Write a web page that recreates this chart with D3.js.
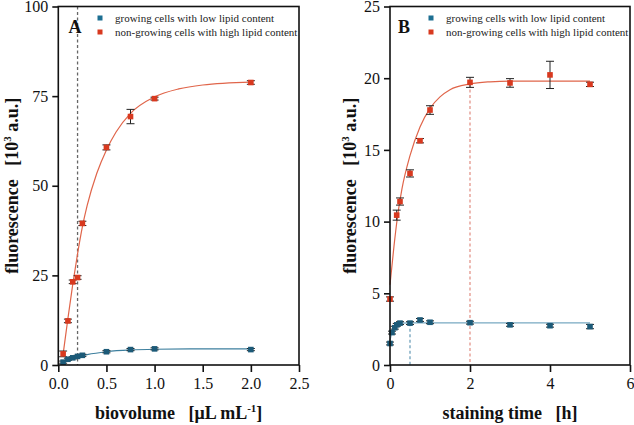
<!DOCTYPE html>
<html>
<head>
<meta charset="utf-8">
<script src="https://cdn.jsdelivr.net/npm/d3@7"></script>
<style>
  html, body { margin: 0; padding: 0; background: #fff; }
  svg { display: block; }
  svg text { font-family: "Liberation Serif", "Times New Roman", serif; }
</style>
</head>
<body>
<div id="chart"></div>
<script>
// Panel A: biovolume [uL/mL]
const aX = [0.05, 0.1, 0.15, 0.2, 0.25, 0.5, 0.75, 1.0, 2.0];
const aRed = [3.1, 12.3, 23.2, 24.4, 39.5, 60.7, 69.3, 74.3, 78.8];
const aRedErr = [0.8, 0.5, 0.5, 0.5, 0.6, 0.7, 2.0, 0.4, 0.5];
const aBlue = [0.8, 1.6, 2.0, 2.4, 2.7, 3.7, 4.3, 4.5, 4.3];
const aBlueErr = [0.3, 0.3, 0.3, 0.3, 0.3, 0.3, 0.3, 0.3, 0.3];
// fitted curves
const aRedFitX = [0.05, 0.1, 0.15, 0.2, 0.25, 0.3, 0.4, 0.5, 0.6, 0.75, 1.0, 1.25, 1.5, 2.0];
const aRedFitY = [3.0, 13.0, 22.5, 31.0, 38.5, 44.5, 53.5, 60.0, 65.0, 70.2, 74.8, 77.0, 78.1, 78.9];
const aBlueFitX = [0.05, 0.1, 0.2, 0.3, 0.5, 0.75, 1.0, 1.5, 2.0];
const aBlueFitY = [0.9, 1.5, 2.3, 2.9, 3.7, 4.2, 4.4, 4.5, 4.5];
const aMarker = 0.2;
const aXTicks = [0, 0.5, 1.0, 1.5, 2.0, 2.5];
const aYTicks = [0, 25, 50, 75, 100];

// Panel B: staining time [h]
const bRedX = [0, 0.167, 0.25, 0.5, 0.75, 1, 2, 3, 4, 5];
const bRed = [4.6, 10.45, 11.4, 13.36, 15.64, 17.78, 19.71, 19.67, 20.23, 19.57];
const bRedErr = [0.15, 0.35, 0.25, 0.25, 0.15, 0.3, 0.35, 0.3, 0.95, 0.15];
const bBlueX = [0, 0.05, 0.12, 0.17, 0.25, 0.5, 0.75, 1, 2, 3, 4, 5];
const bBlue = [1.5, 2.26, 2.6, 2.8, 2.92, 2.92, 3.14, 2.98, 2.95, 2.8, 2.74, 2.68];
const bBlueErr = [0.1, 0.1, 0.1, 0.1, 0.1, 0.1, 0.1, 0.1, 0.1, 0.1, 0.1, 0.15];
const bRedFitX = [0, 0.1, 0.2, 0.3, 0.5, 0.75, 1, 1.25, 1.5, 2, 2.5, 3, 4, 5];
const bRedFitY = [5.6, 8.3, 10.6, 12.3, 14.6, 16.6, 17.9, 18.7, 19.2, 19.6, 19.75, 19.8, 19.8, 19.8];
const bBlueFitX = [0, 0.05, 0.1, 0.2, 0.3, 0.5, 1, 2, 5];
const bBlueFitY = [1.7, 2.3, 2.6, 2.85, 2.92, 2.94, 2.94, 2.94, 2.94];
const bMarkerRed = [2, 19.6];
const bMarkerBlue = [0.5, 2.92];
const bXTicks = [0, 2, 4, 6];
const bYTicks = [0, 5, 10, 15, 20, 25];

const legendLabels = ["growing cells with low lipid content", "non-growing cells with high lipid content"];

const W = 634, H = 425;
const SERIF = "'Liberation Serif', 'Times New Roman', serif";
const RED = "#d8391f", RED_LINE = "#e0654a";
const BLUE = "#1c5a78", BLUE_LINE_A = "#3d7f9e", BLUE_LINE_B = "#78a9c2";

const svg = d3.select("#chart").append("svg")
  .attr("width", W).attr("height", H).attr("viewBox", [0, 0, W, H])
  .attr("font-family", SERIF);

function drawPanel(p) {
  const x = d3.scaleLinear().domain(p.xDomain).range([p.left, p.right]);
  const y = d3.scaleLinear().domain(p.yDomain).range([p.bottom, p.top]);
  const g = svg.append("g");

  // dashed markers under everything
  p.dashes.forEach((d) => {
    g.append("line")
      .attr("x1", x(d.x)).attr("x2", x(d.x))
      .attr("y1", d.y == null ? p.top : y(d.y)).attr("y2", p.bottom)
      .attr("stroke", d.color).attr("stroke-width", 1.3)
      .attr("stroke-dasharray", "3,2.5");
  });

  // fitted curves
  const line = d3.line().curve(d3.curveMonotoneX).x((d) => x(d[0])).y((d) => y(d[1]));
  p.fits.forEach((f) => {
    g.append("path")
      .datum(d3.zip(f.xs, f.ys))
      .attr("d", line)
      .attr("fill", "none")
      .attr("stroke", f.color)
      .attr("stroke-width", 1.2);
  });

  // points with error bars
  p.series.forEach((s) => {
    const pts = d3.zip(s.xs, s.ys, s.err);
    const eg = g.append("g").attr("stroke", "#222").attr("stroke-width", 1);
    pts.forEach(([xv, yv, e]) => {
      const cx = x(xv);
      eg.append("line").attr("x1", cx).attr("x2", cx).attr("y1", y(yv - e)).attr("y2", y(yv + e));
      [yv - e, yv + e].forEach((v) => {
        eg.append("line").attr("x1", cx - 4).attr("x2", cx + 4).attr("y1", y(v)).attr("y2", y(v));
      });
    });
    g.append("g").selectAll("rect").data(pts).join("rect")
      .attr("x", (d) => x(d[0]) - 2.8)
      .attr("y", (d) => y(d[1]) - 2.8)
      .attr("width", 5.6).attr("height", 5.6)
      .attr("fill", s.color);
  });

  // frame
  g.append("rect")
    .attr("x", p.left).attr("y", p.top)
    .attr("width", p.right - p.left).attr("height", p.bottom - p.top)
    .attr("fill", "none").attr("stroke", "#111").attr("stroke-width", 1.6);

  // axes
  const ax = g.append("g")
    .attr("transform", `translate(0,${p.bottom})`)
    .call(d3.axisBottom(x).tickValues(p.xTicks).tickFormat(p.xFormat).tickSize(7).tickPadding(6));
  const ay = g.append("g")
    .attr("transform", `translate(${p.left},0)`)
    .call(d3.axisLeft(y).tickValues(p.yTicks).tickFormat(d3.format("d")).tickSize(6).tickPadding(4));
  [ax, ay].forEach((a) => {
    a.attr("font-family", SERIF);
    a.select(".domain").remove();
    a.selectAll(".tick line").attr("stroke", "#111").attr("stroke-width", 1.6);
    a.selectAll("text").attr("fill", "#111").attr("font-family", SERIF).style("font-size", "16px");
  });

  // panel letter
  g.append("text")
    .attr("x", p.letterX).attr("y", 33)
    .attr("text-anchor", "middle").attr("font-family", SERIF)
    .style("font-size", "18px").style("font-weight", "bold")
    .attr("fill", "#111").text(p.letter);

  // legend
  const lg = g.append("g").attr("transform", `translate(${p.legendX},0)`);
  [BLUE, RED].forEach((c, i) => {
    const ly = 18 + i * 14;
    lg.append("rect").attr("x", -2.5).attr("y", ly - 2.5).attr("width", 5).attr("height", 5).attr("fill", i ? RED : "#1d6f92");
    lg.append("text").attr("x", 15).attr("y", ly).attr("dy", "0.35em")
      .attr("font-family", SERIF)
      .style("font-size", "11px").attr("fill", "#222").text(legendLabels[i]);
  });

  // axis titles
  const xt = g.append("text")
    .attr("x", (p.left + p.right) / 2).attr("y", 419)
    .attr("text-anchor", "middle").attr("font-family", SERIF)
    .style("font-size", "18px").style("font-weight", "bold").attr("fill", "#111");
  xt.append("tspan").text(p.xTitle);
  xt.append("tspan").text("\u00a0\u00a0\u00a0[" + p.xUnit);
  if (p.xSup) {
    xt.append("tspan").attr("dy", -7).style("font-size", "11px").text(p.xSup);
    xt.append("tspan").attr("dy", 7).text("]");
  } else {
    xt.append("tspan").text("]");
  }

  const yt = g.append("text")
    .attr("transform", `translate(${p.yTitleX},${(p.top + p.bottom) / 2}) rotate(-90)`)
    .attr("text-anchor", "middle").attr("font-family", SERIF)
    .style("font-size", "18px").style("font-weight", "bold").attr("fill", "#111");
  yt.append("tspan").text("fluorescence\u00a0\u00a0\u00a0[10");
  yt.append("tspan").attr("dy", -7).style("font-size", "11px").text("3");
  yt.append("tspan").attr("dy", 7).text(" a.u.]");
}

drawPanel({
  left: 58.3, right: 299, top: 6.5, bottom: 365,
  xDomain: [0, 2.5], yDomain: [0, 100],
  xTicks: aXTicks, yTicks: aYTicks, xFormat: d3.format(".1f"),
  dashes: [{ x: aMarker, y: null, color: "#666" }],
  fits: [
    { xs: aRedFitX, ys: aRedFitY, color: RED_LINE },
    { xs: aBlueFitX, ys: aBlueFitY, color: BLUE_LINE_A },
  ],
  series: [
    { xs: aX, ys: aRed, err: aRedErr, color: RED },
    { xs: aX, ys: aBlue, err: aBlueErr, color: BLUE },
  ],
  letter: "A", letterX: 75, legendX: 100,
  xTitle: "biovolume", xUnit: "\u03bcL mL", xSup: "-1",
  yTitleX: 18,
});

drawPanel({
  left: 390, right: 630, top: 6.5, bottom: 365,
  xDomain: [0, 6], yDomain: [0, 25],
  xTicks: bXTicks, yTicks: bYTicks, xFormat: d3.format("d"),
  dashes: [
    { x: bMarkerRed[0], y: bMarkerRed[1], color: "#e3958a" },
    { x: bMarkerBlue[0], y: bMarkerBlue[1], color: "#6fa0bb" },
  ],
  fits: [
    { xs: bRedFitX, ys: bRedFitY, color: RED_LINE },
    { xs: bBlueFitX, ys: bBlueFitY, color: BLUE_LINE_B },
  ],
  series: [
    { xs: bRedX, ys: bRed, err: bRedErr, color: RED },
    { xs: bBlueX, ys: bBlue, err: bBlueErr, color: BLUE },
  ],
  letter: "B", letterX: 404, legendX: 431,
  xTitle: "staining time", xUnit: "h", xSup: null,
  yTitleX: 356,
});
</script>
</body>
</html>
